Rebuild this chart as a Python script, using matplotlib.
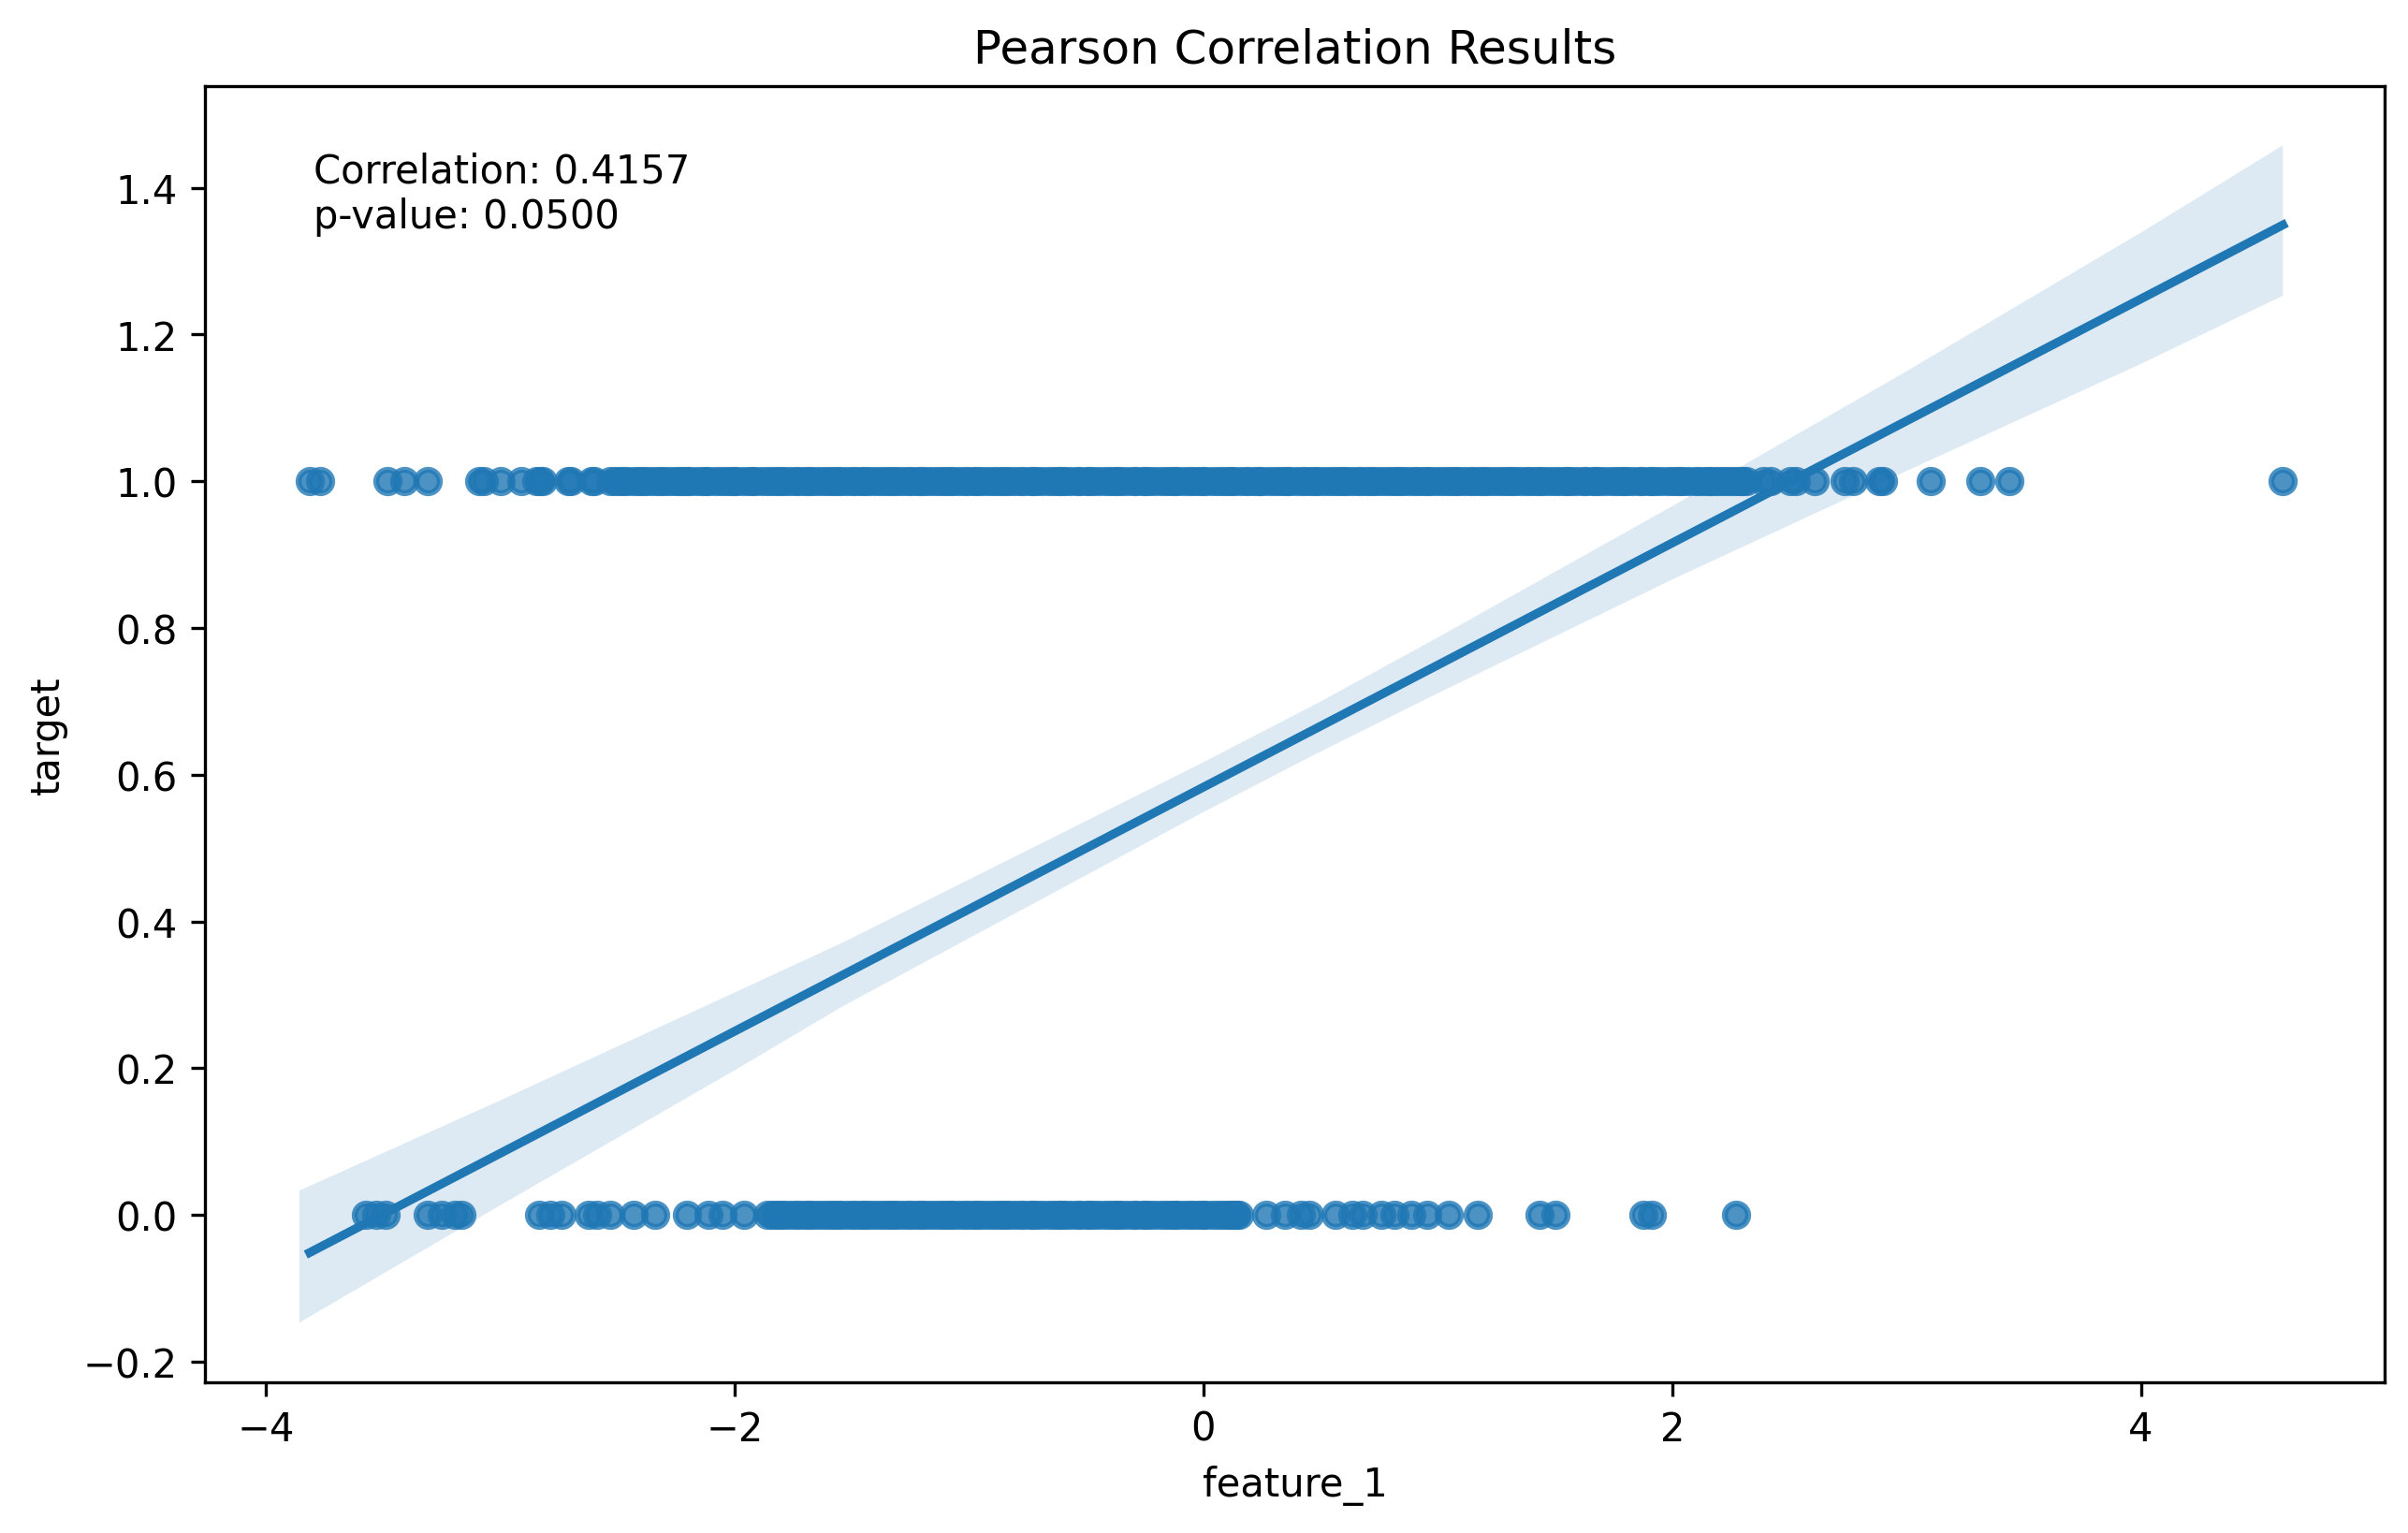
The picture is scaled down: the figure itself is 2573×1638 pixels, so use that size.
import matplotlib
matplotlib.use("Agg")
import matplotlib.pyplot as plt
import numpy as np

# ---- data ----
ones_x = [-3.813, -3.77, -3.48, -3.41, -3.31, -3.09, -3.07, -3.00, -2.91,
          -2.845, -2.83, -2.82, -2.71, -2.70, -2.61, -2.60,
          -2.53, -2.49, -2.46, -2.41, -2.38, -2.33, -2.30, -2.25, -2.22, -2.19,
          -2.14, -2.11, -2.06, -2.02, -1.99, -1.94, -1.91, -1.86, -1.82, -1.79,
          -1.74, -1.70, -1.67, -1.62, -1.58, -1.55, -1.50, -1.46, -1.43, -1.38,
          -1.34, -1.31, -1.26, -1.22, -1.19, -1.14, -1.10, -1.07, -1.02, -0.98,
          -0.95, -0.90, -0.86, -0.83, -0.78, -0.74, -0.71, -0.66, -0.62, -0.59,
          -0.54, -0.50, -0.47, -0.42, -0.38, -0.35, -0.30, -0.26, -0.23, -0.18,
          -0.14, -0.11, -0.06, -0.02, 0.01, 0.06, 0.10, 0.13, 0.18, 0.22, 0.25,
          0.30, 0.34, 0.37, 0.42, 0.46, 0.49, 0.54, 0.58, 0.61, 0.66, 0.70,
          0.73, 0.78, 0.82, 0.85, 0.90, 0.94, 0.97, 1.02, 1.06, 1.09, 1.14,
          1.18, 1.21, 1.26, 1.30, 1.33, 1.38, 1.42, 1.45, 1.50, 1.54, 1.57,
          1.62, 1.66, 1.69, 1.74, 1.78, 1.81, 1.86, 1.90, 1.93, 1.98, 2.02,
          2.05, 2.10, 2.14, 2.17, 2.21, 2.25, 2.29, 2.315,
          2.39, 2.42, 2.505, 2.53, 2.61, 2.735, 2.77, 2.885, 2.90,
          3.105, 3.315, 3.44, 4.606]
ones_x_more = [-2.51, -2.475, -2.43, -2.395, -2.355, -2.315, -2.275, -2.235,
               -2.205, -2.165, -2.125, -2.085, -2.04, -2.005, -1.965, -1.925,
               -1.885, -1.84, -1.805, -1.765, -1.725, -1.685, -1.645, -1.60,
               -1.565, -1.525, -1.485, -1.445, -1.405, -1.36, -1.325, -1.285,
               -1.245, -1.205, -1.165, -1.12, -1.085, -1.045, -1.005, -0.965,
               -0.925, -0.88, -0.845, -0.805, -0.765, -0.725, -0.685, -0.64,
               -0.605, -0.565, -0.525, -0.485, -0.445, -0.40, -0.365, -0.325,
               -0.285, -0.245, -0.205, -0.16, -0.125, -0.085, -0.045, -0.005,
               0.035, 0.08, 0.115, 0.155, 0.195, 0.235, 0.275, 0.32, 0.355,
               0.395, 0.435, 0.475, 0.515, 0.56, 0.595, 0.635, 0.675, 0.715,
               0.755, 0.80, 0.835, 0.875, 0.915, 0.955, 0.995, 1.04, 1.075,
               1.115, 1.155, 1.195, 1.235, 1.28, 1.315, 1.355, 1.395, 1.435,
               1.475, 1.52, 1.555, 1.595, 1.635, 1.675, 1.715, 1.76, 1.795,
               1.835, 1.875, 1.915, 1.955, 2.00, 2.035, 2.075, 2.115, 2.155,
               2.19, 2.23, 2.27, 2.30]
zeros_x = [-3.575, -3.53, -3.49, -3.31, -3.25, -3.195, -3.166,
           -2.833, -2.786, -2.74, -2.624, -2.585, -2.53, -2.43, -2.34,
           -2.205, -2.11, -2.05, -1.96,
           -1.86, -1.82, -1.79, -1.74, -1.70, -1.67, -1.62, -1.58, -1.55,
           -1.50, -1.46, -1.43, -1.38, -1.34, -1.31, -1.26, -1.22, -1.19,
           -1.14, -1.10, -1.07, -1.02, -0.98, -0.95, -0.90, -0.86, -0.83,
           -0.78, -0.74, -0.71, -0.66, -0.62, -0.59, -0.54, -0.50, -0.47,
           -0.42, -0.38, -0.35, -0.30, -0.26, -0.23, -0.18, -0.14, -0.11,
           -0.06, -0.02, 0.01, 0.06, 0.10, 0.13, 0.154,
           0.269, 0.349, 0.417, 0.451, 0.565, 0.634, 0.680, 0.760, 0.817,
           0.886, 0.954, 1.046, 1.171, 1.434, 1.502, 1.879, 1.914, 2.272]
zeros_x_more = [-1.84, -1.805, -1.765, -1.725, -1.685, -1.645, -1.60, -1.565,
                -1.525, -1.485, -1.445, -1.405, -1.36, -1.325, -1.285, -1.245,
                -1.205, -1.165, -1.12, -1.085, -1.045, -1.005, -0.965, -0.925,
                -0.88, -0.845, -0.805, -0.765, -0.725, -0.685, -0.64, -0.605,
                -0.565, -0.525, -0.485, -0.445, -0.40, -0.365, -0.325, -0.285,
                -0.245, -0.205, -0.16, -0.125, -0.085, -0.045, -0.005, 0.035,
                0.08, 0.115, 0.14]

# regression fit and its confidence band
fit_slope = 0.1664
fit_intercept = 0.583
band_x = [-3.857, -3.0, -2.0, -1.54, -1.0, 0.0, 0.49, 1.0, 2.0, 3.0, 4.0, 4.606]
band_upper = [0.033, 0.156, 0.303, 0.371, 0.457, 0.617, 0.698, 0.787, 0.966, 1.150, 1.339, 1.458]
band_lower = [-0.147, 0.013, 0.197, 0.284, 0.377, 0.549, 0.630, 0.711, 0.866, 1.014, 1.160, 1.253]

correlation = 0.4157
p_value = 0.0500

# ---- plot ----
color = "#1f77b4"
fig = plt.figure(figsize=(2573 / 300, 1639 / 300), dpi=300)
ax = fig.add_axes([0.0851, 0.0984, 0.9052, 0.845])

ones_all = ones_x + ones_x_more
zeros_all = zeros_x + zeros_x_more
x_all = np.array(ones_all + zeros_all)
y_all = np.array([1.0] * len(ones_all) + [0.0] * len(zeros_all))
ax.scatter(x_all, y_all, color=color, alpha=0.8, s=36, linewidths=1.5)

ax.fill_between(band_x, band_lower, band_upper, facecolor=color, alpha=0.15, linewidth=0)
grid = np.array([x_all.min(), x_all.max()])
ax.plot(grid, fit_intercept + fit_slope * grid, color=color, linewidth=2.25)

ax.set_xlim(-4.26, 5.04)
ax.set_ylim(-0.228, 1.539)
ax.set_xlabel("feature_1")
ax.set_ylabel("target")
ax.set_title("Pearson Correlation Results")
ax.text(0.05, 0.95, f"Correlation: {correlation:.4f}\np-value: {p_value:.4f}",
        transform=ax.transAxes, va="top", ha="left")

fig.savefig("out.png", dpi=300)
